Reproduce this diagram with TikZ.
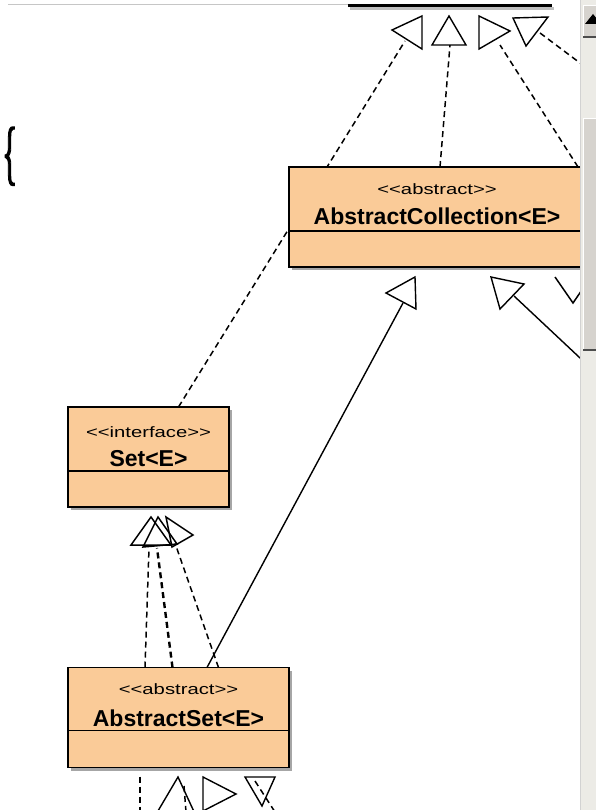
\documentclass[tikz,border=0pt]{standalone}
\usepackage{fontspec}
\setmainfont{Liberation Sans}
\newfontfamily\bracefont{Liberation Serif}[FakeBold=2.5]
\usetikzlibrary{shadows}
\definecolor{boxfill}{RGB}{250,203,152}
\definecolor{sbtrack}{RGB}{236,235,230}
\definecolor{sbthumb}{RGB}{214,211,206}
% doubled angle brackets, kept apart so the font mapping does not turn them into guillemets
\newcommand\dlt{<\kern0pt<}
\newcommand\dgt{>\kern0pt>}
\pgfdeclarelayer{bg}
\pgfsetlayers{bg,main}
\begin{document}
\begin{tikzpicture}[x=1pt,y=-1pt,
  umlbox/.style={draw=black, line width=1.8pt, fill=boxfill, minimum height=100pt,
    inner sep=0pt, outer sep=0pt,
    drop shadow={shadow xshift=3pt, shadow yshift=-3pt, fill=black, opacity=0.35}},
  stereo/.style={anchor=base, inner sep=0pt, font=\fontsize{15}{15}\selectfont},
  cname/.style={anchor=base, inner sep=0pt, font=\fontsize{23}{23}\selectfont\bfseries},
  divider/.style={line width=1.4pt},
  dep/.style={dash pattern=on 6pt off 4pt, line width=1.5pt},
  gen/.style={line width=1.4pt},
  head/.style={draw=black, fill=white, line width=1.4pt, line join=miter},
  openhead/.style={draw=black, line width=1.5pt, line join=miter}]
\useasboundingbox (0,0) rectangle (596,810);

% brace
\node[inner sep=0pt, anchor=north west] (brace) at (2,127)
  {\resizebox*{15pt}{58pt}{\bracefont\{}};

% classes
\node[umlbox, minimum width=296pt] (ac) at (437,217) {};
\node[umlbox, minimum width=161pt] (set) at (148.5,457) {};
\node[umlbox, minimum width=221pt] (aset) at (178.5,717.5) {};

\draw[divider] ([yshift=-64pt]ac.north west) -- ([yshift=-64pt]ac.north east);
\draw[divider] ([yshift=-64pt]set.north west) -- ([yshift=-64pt]set.north east);
\draw[divider] ([yshift=-63pt]aset.north west) -- ([yshift=-63pt]aset.north east);

\node[stereo] (acst) at ([yshift=-28pt]ac.north) {\scalebox{1.35}[1]{\dlt abstract\dgt}};
\node[cname] (acnm) at ([yshift=-58pt]ac.north) {AbstractCollection<E>};
\node[stereo] (setst) at ([yshift=-30pt]set.north) {\scalebox{1.35}[1]{\dlt interface\dgt}};
\node[cname] (setnm) at ([yshift=-59pt]set.north) {Set<E>};
\node[stereo] (asetst) at ([yshift=-27pt]aset.north) {\scalebox{1.35}[1]{\dlt abstract\dgt}};
\node[cname] (asetnm) at ([yshift=-59pt]aset.north) {AbstractSet<E>};

% ends of the connectors at the arrow heads
\coordinate (h1) at (405,41);
\coordinate (h2) at (450,45);
\coordinate (h3) at (500,45);
\coordinate (h4) at (540,33);
\coordinate (e4) at (612,87);
\coordinate (h5) at (403,303);
\coordinate (h6) at (514,296);
\coordinate (e6) at (612,388);
\coordinate (h7) at (149,548);
\coordinate (h8) at (157,548);
\coordinate (h9) at (176,546);
\coordinate (s1) at (140,812);

\begin{pgfonlayer}{bg}
  \fill[white] (0,0) rectangle (596,810);
  % window edge and the base of the class above
  \draw[gray!45, line width=1pt] (8,4.5) -- (348,4.5);
  \fill[gray!50] (350,7) rectangle (554,10);
  \draw[line width=3pt] (348,5.5) -- (552,5.5);
  % connectors
  \draw[dep] ([xshift=30pt]set.north) -- (h1);
  \draw[dep] ([xshift=3pt]ac.north) -- (h2);
  \draw[dep] ([xshift=141pt]ac.north) -- (h3);
  \draw[dep] (h4) -- (e4);
  \draw[gen] ([xshift=28.5pt]aset.north) -- (h5);
  \draw[gen] (h6) -- (e6);
  \draw[dep] ([xshift=-33.5pt]aset.north) -- (h7);
  \draw[dep, line width=2.4pt] ([xshift=-6pt]aset.north) -- (h8);
  \draw[dep] ([xshift=40pt]aset.north) -- (h9);
  \draw[dep] ([xshift=-38.5pt,yshift=-9pt]aset.south) -- (s1);
\end{pgfonlayer}

% arrow heads above AbstractCollection
\draw[head] (392,30) -- (422,16) -- (422,49) -- cycle;
\draw[head] (449,16) -- (432,45) -- (466,45) -- cycle;
\draw[head] (479,16) -- (510,31) -- (479,49) -- cycle;
\draw[head] (513,18) -- (548,17) -- (526,46) -- cycle;

% arrow heads below AbstractCollection
\draw[head] (415,277) -- (386,293) -- (416,309) -- cycle;
\draw[head] (491,277) -- (524,284) -- (500,309) -- cycle;
\draw[openhead] (555,277) -- (573,303) -- (586,284);

% arrow heads below Set
\draw[openhead] (151,517) -- (131,545) -- (171,545) -- cycle;
\draw[openhead] (158,517) -- (143,547) -- (177,544) -- cycle;
\draw[openhead] (166,517) -- (193,535) -- (172,547) -- cycle;

% arrow heads below AbstractSet
\draw[head] (178,777) -- (155,816) -- (196,816) -- cycle;
\draw[dep] (184,786) -- (186,812);
\draw[head] (203,777) -- (236,794) -- (203,811) -- cycle;
\draw[head] (245,777) -- (275,777) -- (262,806) -- cycle;
\draw[dep] (255,781) -- (275,812);

% scroll bar
\begin{scope}
  \clip (580,0) rectangle (596,810);
  \fill[sbtrack] (580,0) rectangle (596,810);
  \draw[gray!35] (580.5,0) -- (580.5,810);
  \fill[sbthumb] (583,5) rectangle (596,37);
  \draw[white, line width=1pt] (583.5,37) -- (583.5,5.5) -- (596,5.5);
  \draw[gray!60!black, line width=1.2pt] (583,37) -- (596,37);
  \fill (585,24) -- (593,14) -- (601,24) -- cycle;
  \fill[sbthumb] (583,118) rectangle (596,350);
  \draw[white, line width=1pt] (583.5,350) -- (583.5,118.5) -- (596,118.5);
  \draw[gray!60!black, line width=1.2pt] (583,350) -- (596,350);
\end{scope}
\end{tikzpicture}
\end{document}
